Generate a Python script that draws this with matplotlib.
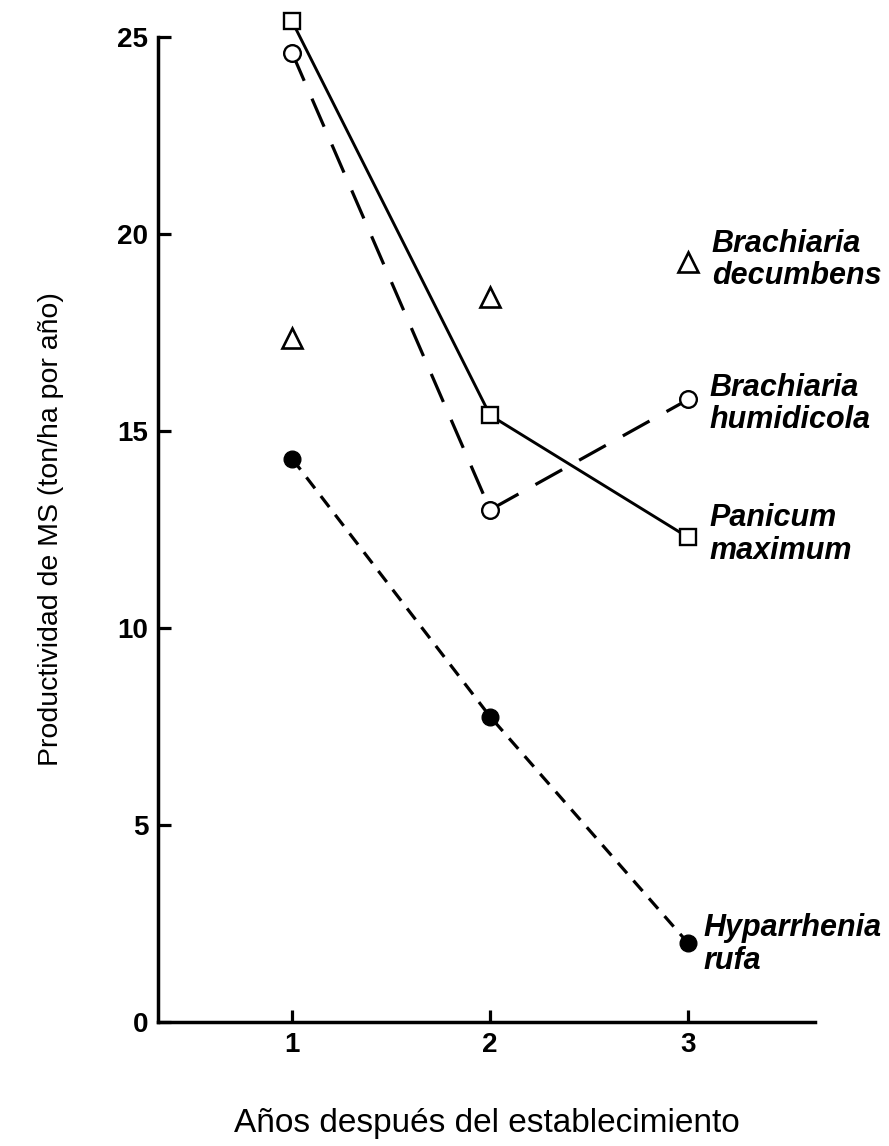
import matplotlib
matplotlib.use("Agg")
import matplotlib.pyplot as plt

# Años después del establecimiento
years = [1, 2, 3]

# Productividad de MS (ton/ha por año) por especie
panicum_maximum = [25.4, 15.4, 12.3]
brachiaria_humidicola = [24.6, 13.0, 15.8]
brachiaria_decumbens = [17.35, 18.4, 19.3]
hyparrhenia_rufa = [14.3, 7.75, 2.0]

species_labels = [
    "Brachiaria\ndecumbens",
    "Brachiaria\nhumidicola",
    "Panicum\nmaximum",
    "Hyparrhenia\nrufa",
]

y_ticks = [0, 5, 10, 15, 20, 25]

plt.rcParams["font.family"] = ["Liberation Sans", "DejaVu Sans"]
plt.rcParams["lines.scale_dashes"] = False

fig = plt.figure(figsize=(8.89, 11.46), dpi=100)
ax = fig.add_axes([0.1777, 0.1082, 0.739, 0.8595])

ink = "black"
lw = 2.3

# Panicum maximum: solid line, open squares
ax.plot(years, panicum_maximum, color=ink, lw=2.1, ls="-",
        marker="s", ms=11, mfc="white", mec=ink, mew=1.7, clip_on=False, zorder=3)

# Brachiaria humidicola: long dashes, open circles
ax.plot(years, brachiaria_humidicola, color=ink, lw=lw, dashes=(22, 14),
        marker="o", ms=12, mfc="white", mec=ink, mew=1.7, clip_on=False, zorder=3)

# Brachiaria decumbens: triangles only
ax.plot(years, brachiaria_decumbens, ls="none",
        marker="^", ms=15, mfc="white", mec=ink, mew=1.9, clip_on=False, zorder=3)

# Hyparrhenia rufa: short dashes, filled circles
ax.plot(years, hyparrhenia_rufa, color=ink, lw=lw, dashes=(10, 7),
        marker="o", ms=12, mfc=ink, mec=ink, clip_on=False, zorder=3)

# species names next to the year-3 points
label_font = dict(fontsize=22, fontweight="bold", fontstyle="italic",
                  va="center", ha="left", linespacing=1.1)
ends = [brachiaria_decumbens[-1], brachiaria_humidicola[-1],
        panicum_maximum[-1], hyparrhenia_rufa[-1]]
offsets = [(17, 1), (15, -3), (15, 2), (11, -1)]
for text, yv, (dx, dy) in zip(species_labels, ends, offsets):
    ax.annotate(text, xy=(years[-1], yv), xytext=(dx, dy),
                textcoords="offset points", annotation_clip=False, **label_font)

ax.set_xlim(0.323, 3.64)
ax.set_ylim(0, 25)
ax.set_xticks(years)
ax.set_yticks(y_ticks)
ax.tick_params(axis="both", direction="in", length=9, width=2.3,
               labelsize=20, pad=7)
for lab in ax.get_xticklabels() + ax.get_yticklabels():
    lab.set_fontweight("bold")

for side in ("top", "right"):
    ax.spines[side].set_visible(False)
for side in ("left", "bottom"):
    ax.spines[side].set_linewidth(2.5)

ax.set_xlabel("Años después del establecimiento", fontsize=24, labelpad=36)
ax.set_ylabel("Productividad de MS (ton/ha por año)", fontsize=20.5, labelpad=38)

fig.savefig("out.png", dpi=100)
